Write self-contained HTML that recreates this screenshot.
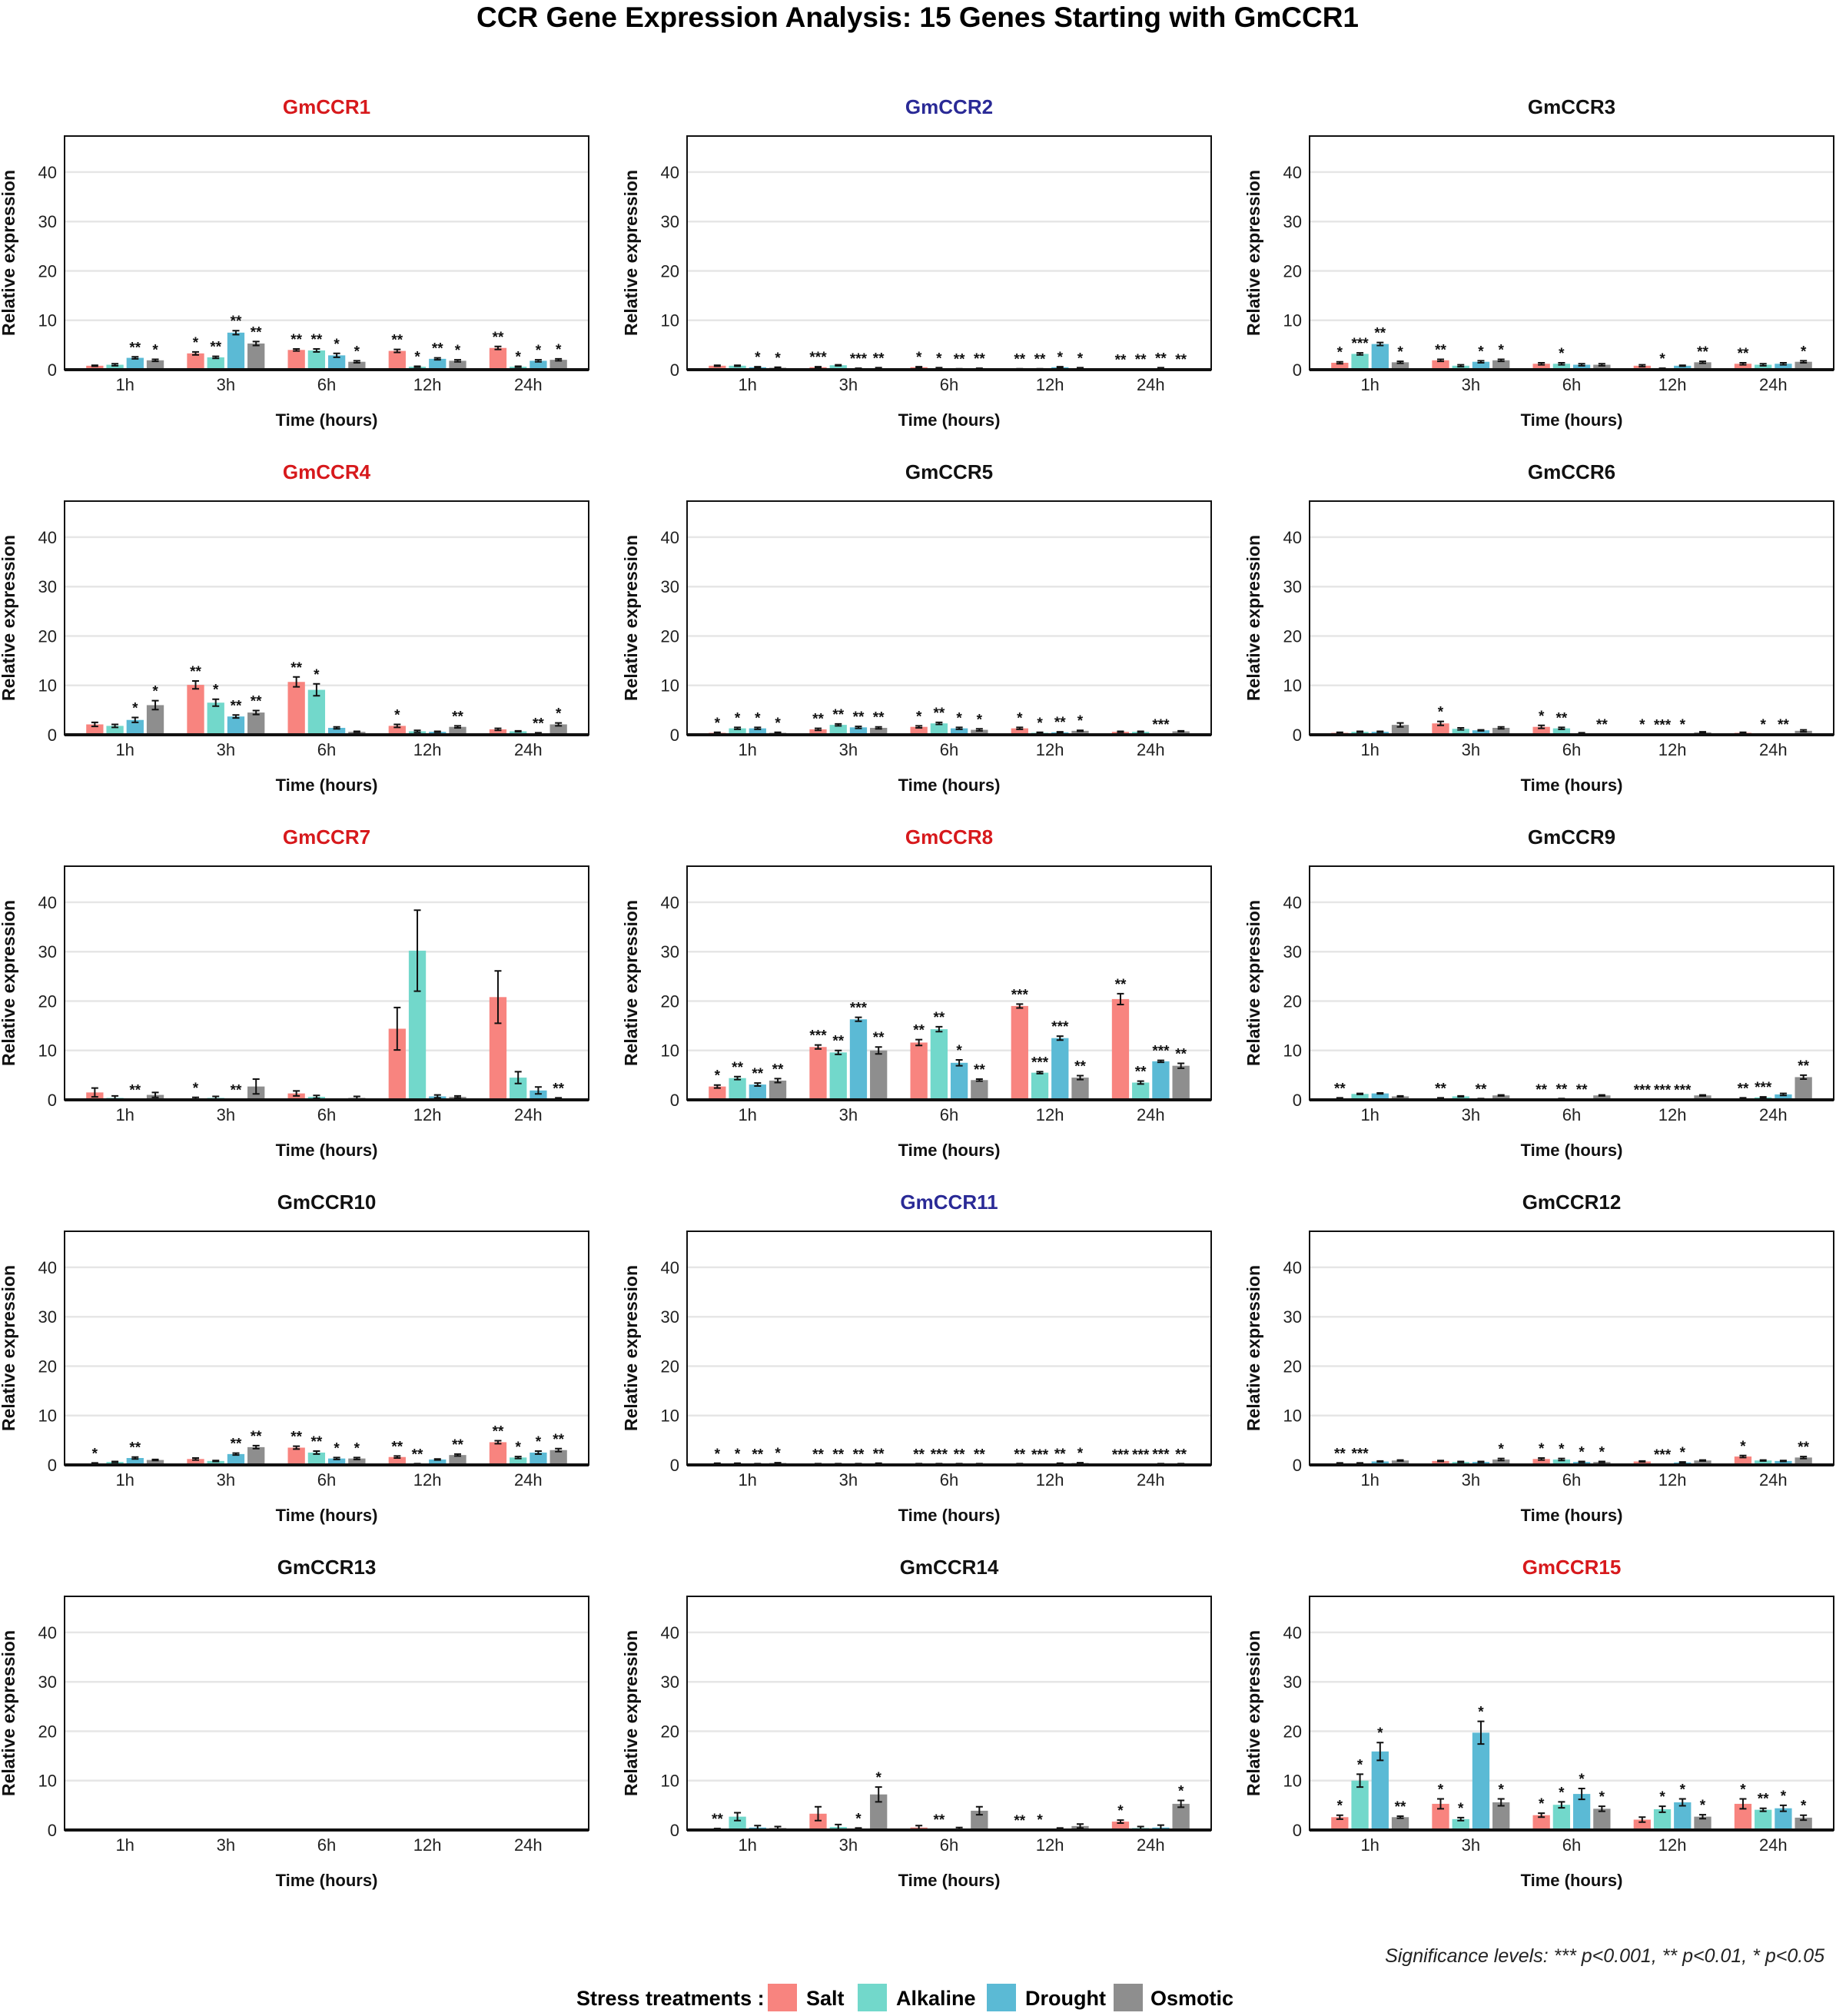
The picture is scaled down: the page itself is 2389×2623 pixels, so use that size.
<!DOCTYPE html>
<html><head><meta charset="utf-8"><style>
body{margin:0;background:#fff}
svg{display:block;font-family:"Liberation Sans",Arial,sans-serif}
</style></head><body>
<svg id="chart" width="2389" height="2623" viewBox="0 0 2389 2623" xmlns="http://www.w3.org/2000/svg">
<rect width="2389" height="2623" fill="#fff"/>
<text x="1194" y="35" text-anchor="middle" font-size="37" font-weight="bold">CCR Gene Expression Analysis: 15 Genes Starting with GmCCR1</text>
<g id="panels"></g>
<text x="2374" y="2553" text-anchor="end" font-size="25" font-style="italic" fill="#222">Significance levels: *** p&lt;0.001, ** p&lt;0.01, * p&lt;0.05</text>
<g>
<text x="750" y="2609" font-size="27" font-weight="bold">Stress treatments :</text>
<rect x="999" y="2581" width="38" height="36" fill="#F8847F"/>
<text x="1049" y="2609" font-size="27" font-weight="bold">Salt</text>
<rect x="1116" y="2581" width="38" height="36" fill="#72D8CB"/>
<text x="1166" y="2609" font-size="27" font-weight="bold">Alkaline</text>
<rect x="1284" y="2581" width="38" height="36" fill="#5BBAD5"/>
<text x="1334" y="2609" font-size="27" font-weight="bold">Drought</text>
<rect x="1449" y="2581" width="38" height="36" fill="#8E8E8E"/>
<text x="1497" y="2609" font-size="27" font-weight="bold">Osmotic</text>
</g>
</svg>
<script>
const genes = ["GmCCR1","GmCCR2","GmCCR3","GmCCR4","GmCCR5","GmCCR6","GmCCR7","GmCCR8","GmCCR9","GmCCR10","GmCCR11","GmCCR12","GmCCR13","GmCCR14","GmCCR15"];
const titleColors = ["#D7191C","#2A2A96","#111","#D7191C","#111","#111","#D7191C","#D7191C","#111","#111","#2A2A96","#111","#111","#111","#D7191C"];
const timepoints = ["1h","3h","6h","12h","24h"];
const treatments = ["Salt","Alkaline","Drought","Osmotic"];
const yTicks = [0,10,20,30,40];
// values[gene][time][treatment]
const values = [
 [[0.8,1.0,2.4,1.9],[3.3,2.5,7.5,5.3],[4.0,3.9,2.9,1.6],[3.8,0.6,2.2,1.8],[4.4,0.6,1.8,2.0]],
 [[0.8,0.8,0.5,0.4],[0.5,0.9,0.2,0.3],[0.5,0.3,0.1,0.2],[0.1,0.1,0.5,0.3],[0.05,0.1,0.3,0.1]],
 [[1.4,3.2,5.2,1.5],[1.9,0.8,1.6,1.9],[1.2,1.2,1.0,1.0],[0.8,0.2,0.8,1.5],[1.2,1.0,1.2,1.6]],
 [[2.1,1.8,3.0,6.0],[10.1,6.5,3.7,4.5],[10.7,9.1,1.4,0.6],[1.8,0.7,0.6,1.6],[1.1,0.7,0.3,2.1]],
 [[0.4,1.3,1.3,0.4],[1.1,2.0,1.5,1.4],[1.6,2.3,1.3,1.0],[1.3,0.4,0.5,0.8],[0.6,0.6,0.1,0.7]],
 [[0.4,0.6,0.6,2.0],[2.3,1.2,0.9,1.4],[1.6,1.3,0.3,0.1],[0.1,0.05,0.1,0.5],[0.4,0.1,0.1,0.8]],
 [[1.5,0.4,0.05,1.0],[0.3,0.4,0.05,2.7],[1.3,0.6,0.1,0.4],[14.4,30.2,0.7,0.6],[20.8,4.5,1.9,0.3]],
 [[2.7,4.4,3.1,3.9],[10.7,9.6,16.3,10.0],[11.6,14.3,7.5,4.0],[19.0,5.5,12.5,4.5],[20.4,3.5,7.8,6.9]],
 [[0.3,1.2,1.3,0.7],[0.3,0.7,0.2,0.9],[0.1,0.2,0.1,0.9],[0.05,0.05,0.05,0.9],[0.3,0.5,1.1,4.6]],
 [[0.3,0.6,1.4,1.0],[1.2,0.8,2.2,3.6],[3.5,2.5,1.3,1.3],[1.6,0.2,1.1,2.0],[4.6,1.5,2.5,3.0]],
 [[0.3,0.3,0.2,0.4],[0.2,0.2,0.2,0.3],[0.2,0.2,0.2,0.2],[0.2,0.1,0.3,0.4],[0.1,0.1,0.2,0.2]],
 [[0.3,0.3,0.7,0.9],[0.8,0.6,0.6,1.1],[1.2,1.1,0.6,0.6],[0.7,0.1,0.5,0.9],[1.7,0.9,0.8,1.5]],
 [[0,0,0,0],[0,0,0,0],[0,0,0,0],[0,0,0,0],[0,0,0,0]],
 [[0.2,2.7,0.5,0.4],[3.3,0.6,0.3,7.2],[0.5,0.1,0.3,3.9],[0.0,0.1,0.3,0.8],[1.7,0.4,0.5,5.3]],
 [[2.6,10.0,15.9,2.6],[5.3,2.2,19.7,5.6],[3.0,5.1,7.3,4.3],[2.1,4.2,5.6,2.7],[5.3,4.1,4.4,2.5]]
];
const errors = [
 [[0.1,0.2,0.2,0.2],[0.3,0.2,0.4,0.4],[0.2,0.3,0.4,0.2],[0.3,0.1,0.2,0.2],[0.3,0.1,0.2,0.2]],
 [[0.1,0.1,0.1,0.1],[0.1,0.1,0.1,0.1],[0.1,0.1,0.1,0.1],[0.1,0.1,0.1,0.1],[0.05,0.05,0.1,0.05]],
 [[0.2,0.2,0.3,0.2],[0.2,0.2,0.2,0.2],[0.2,0.2,0.2,0.2],[0.2,0.1,0.1,0.2],[0.2,0.2,0.2,0.2]],
 [[0.4,0.3,0.5,0.9],[0.8,0.7,0.3,0.4],[1.0,1.2,0.2,0.1],[0.3,0.2,0.1,0.2],[0.2,0.1,0.1,0.3]],
 [[0.1,0.2,0.2,0.1],[0.2,0.2,0.2,0.2],[0.2,0.2,0.2,0.2],[0.2,0.1,0.1,0.1],[0.1,0.1,0.05,0.1]],
 [[0.1,0.1,0.1,0.4],[0.4,0.2,0.1,0.2],[0.3,0.2,0.1,0.05],[0.05,0.05,0.05,0.1],[0.1,0.05,0.05,0.2]],
 [[0.9,0.4,0.02,0.5],[0.2,0.3,0.02,1.5],[0.5,0.3,0.05,0.3],[4.3,8.2,0.3,0.2],[5.3,1.2,0.7,0.1]],
 [[0.3,0.3,0.3,0.4],[0.4,0.4,0.4,0.7],[0.6,0.5,0.6,0.2],[0.4,0.2,0.4,0.4],[1.1,0.3,0.2,0.5]],
 [[0.1,0.1,0.1,0.1],[0.1,0.1,0.05,0.1],[0.05,0.05,0.05,0.1],[0.02,0.02,0.02,0.1],[0.1,0.1,0.2,0.4]],
 [[0.1,0.1,0.2,0.1],[0.2,0.1,0.2,0.3],[0.3,0.3,0.2,0.2],[0.2,0.05,0.1,0.2],[0.3,0.2,0.3,0.3]],
 [[0.05,0.05,0.05,0.05],[0.05,0.05,0.05,0.05],[0.05,0.05,0.05,0.05],[0.05,0.05,0.05,0.05],[0.05,0.05,0.05,0.05]],
 [[0.1,0.1,0.1,0.1],[0.1,0.1,0.1,0.2],[0.2,0.2,0.1,0.1],[0.1,0.05,0.1,0.1],[0.2,0.1,0.1,0.2]],
 [[0,0,0,0],[0,0,0,0],[0,0,0,0],[0,0,0,0],[0,0,0,0]],
 [[0.1,0.8,0.4,0.3],[1.4,0.5,0.1,1.5],[0.4,0.02,0.2,0.8],[0,0.02,0.1,0.4],[0.3,0.3,0.5,0.7]],
 [[0.4,1.3,1.8,0.2],[1.0,0.3,2.3,0.7],[0.4,0.6,1.1,0.5],[0.5,0.6,0.7,0.4],[1.0,0.3,0.6,0.5]]
];
const stars = [
 [["","","**","*"],["*","**","**","**"],["**","**","*","*"],["**","*","**","*"],["**","*","*","*"]],
 [["","","*","*"],["***","","***","**"],["*","*","**","**"],["**","**","*","*"],["**","**","**","**"]],
 [["*","***","**","*"],["**","","*","*"],["","*","",""],["","*","","**"],["**","","","*"]],
 [["","","*","*"],["**","*","**","**"],["**","*","",""],["*","","","**"],["","","**","*"]],
 [["*","*","*","*"],["**","**","**","**"],["*","**","*","*"],["*","*","**","*"],["","","***",""]],
 [["","","",""],["*","","",""],["*","**","","**"],["*","***","*",""],["","*","**",""]],
 [["","","**",""],["*","","**",""],["","","",""],["","","",""],["","","","**"]],
 [["*","**","**","**"],["***","**","***","**"],["**","**","*","**"],["***","***","***","**"],["**","**","***","**"]],
 [["**","","",""],["**","","**",""],["**","**","**",""],["***","***","***",""],["**","***","","**"]],
 [["*","","**",""],["","","**","**"],["**","**","*","*"],["**","**","","**"],["**","*","*","**"]],
 [["*","*","**","*"],["**","**","**","**"],["**","***","**","**"],["**","***","**","*"],["***","***","***","**"]],
 [["**","***","",""],["","","","*"],["*","*","*","*"],["","***","*",""],["*","","","**"]],
 [["","","",""],["","","",""],["","","",""],["","","",""],["","","",""]],
 [["**","","",""],["","","*","*"],["","**","",""],["**","*","",""],["*","","","*"]],
 [["*","*","*","**"],["*","*","*","*"],["*","*","*","*"],["","*","*","*"],["*","**","*","*"]]
];
const colors = ["#F8847F","#72D8CB","#5BBAD5","#8E8E8E"];
const NS = "http://www.w3.org/2000/svg";
const root = document.getElementById("panels");
function mk(tag, attrs, parent, text){
  const e = document.createElementNS(NS, tag);
  for (const k in attrs) e.setAttribute(k, attrs[k]);
  if (text !== undefined) e.textContent = text;
  parent.appendChild(e);
  return e;
}
const PW = 682, PH = 304, YMAX = 47.3;
genes.forEach((g, gi) => {
  const col = gi % 3, row = Math.floor(gi / 3);
  const L = 84 + col * 810, T = 177 + row * 475, B = T + PH;
  const yS = v => B - v / YMAX * PH;
  const band = PW / 5.2;
  const xC = i => L + band * (0.6 + i);
  const slot = band * 0.8 / 4, bw = slot * 0.85;
  const gp = mk("g", {}, root);
  
  
  const tt = mk("text", {x: L + PW/2, y: T - 29, "text-anchor": "middle", "font-size": 26, "font-weight": "bold", fill: titleColors[gi]}, gp, g);
  
  
  yTicks.forEach(t => {
    if (t > 0) {
      const gl = mk("line", {x1: L, x2: L + PW, y1: yS(t), y2: yS(t), stroke: "#e6e6e6", "stroke-width": 2.5}, gp);
      
      
    }
    const tl = mk("text", {x: L - 10, y: yS(t) + 8, "text-anchor": "end", "font-size": 22, fill: "#222"}, gp, String(t));
    
    
  });
  timepoints.forEach((tp, ti) => {
    const xl = mk("text", {x: xC(ti), y: B + 27, "text-anchor": "middle", "font-size": 22, fill: "#222"}, gp, tp);
    
    
    treatments.forEach((tr, si) => {
      const v = values[gi][ti][si], e = errors[gi][ti][si];
      const cx = xC(ti) + (si - 1.5) * slot;
      const r = mk("rect", {x: cx - bw/2, y: yS(v), width: bw, height: Math.max(0, B - yS(v)), fill: colors[si]}, gp);
      
      
      if (v > 0) {
        const top = yS(v + e), bot = yS(Math.max(0, v - e));
        const eb = mk("path", {d: `M${cx-4.5},${top}H${cx+4.5}M${cx},${top}V${bot}M${cx-4.5},${bot}H${cx+4.5}`, stroke: "#111", "stroke-width": 2, fill: "none"}, gp);
        
        
      }
      const s = stars[gi][ti][si];
      if (s) {
        const st = mk("text", {x: cx, y: yS(v + e) - 6, "text-anchor": "middle", "font-size": 19, "font-weight": "bold", fill: "#111"}, gp, s);
        
        
      }
    });
  });
  const bx = mk("rect", {x: L, y: T, width: PW, height: PH, fill: "none", stroke: "#111", "stroke-width": 2}, gp);
  
  
  const ax = mk("line", {x1: L, x2: L + PW, y1: B, y2: B, stroke: "#111", "stroke-width": 4}, gp);
  
  
  const yt = mk("text", {x: 0, y: 0, transform: `translate(${L - 65},${T + PH/2}) rotate(-90)`, "text-anchor": "middle", "font-size": 23, "font-weight": "bold", fill: "#111"}, gp, "Relative expression");
  
  
  const xt = mk("text", {x: L + PW/2, y: B + 73, "text-anchor": "middle", "font-size": 22, "font-weight": "bold", fill: "#111"}, gp, "Time (hours)");
  
  
});
</script>
</body></html>
